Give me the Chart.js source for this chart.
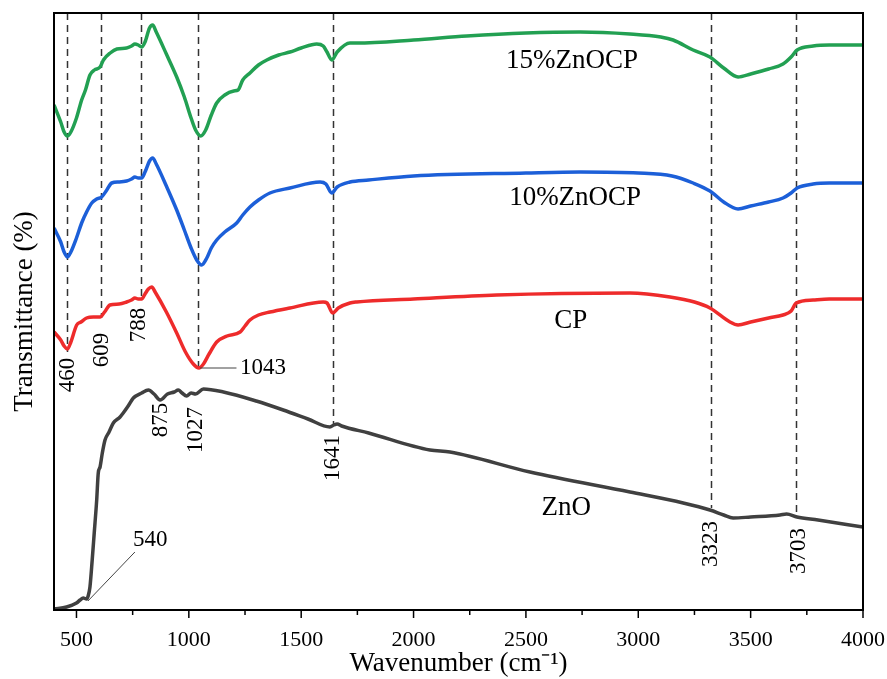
<!DOCTYPE html>
<html>
<head>
<meta charset="utf-8">
<script src="https://cdn.jsdelivr.net/npm/chart.js@4.4.0/dist/chart.umd.min.js"></script>
<style>
  html, body { margin: 0; padding: 0; background: #fff; }
</style>
</head>
<body>
<canvas id="ftirChart" width="887" height="679"></canvas>
<script>
// FTIR spectra, wavenumber (cm-1) and offset transmittance (a.u.)
var wn15 = [400,430,445,460,475,500,523,540,560,580,605,620,650,680,723,745,760,775,790,805,825,839,855,900,946,980,1010,1030,1053,1075,1100,1124,1160,1200,1219,1240,1272,1310,1347,1400,1450,1500,1569,1598,1615,1636,1660,1717,1747,2000,2237,2500,2741,2963,3100,3155,3244,3319,3380,3444,3500,3580,3644,3680,3707,3778,3850,4000];
var t15  = [505,488,478,474,478,492,510,520,535,540,543,550,557,561,562,564,566,565,563,568,582,585,578,556,533,513,492,480,474,480,495,507,515,519,520,530,537,545,550,555,558,562,566,564,558,550,558,567,567,570,574,577,578,576,573,570,560,553,542,533,536,541,546,553,560,564,565,565];

var wn10 = [400,430,445,460,475,500,523,545,568,590,612,635,657,690,723,745,760,775,790,805,825,839,855,900,946,980,1010,1035,1057,1080,1100,1124,1160,1213,1240,1272,1310,1361,1450,1584,1610,1636,1660,1717,1800,2000,2500,2741,3000,3150,3244,3319,3380,3444,3500,3580,3644,3680,3707,3778,3850,4000];
var t10  = [382,368,358,353,358,372,387,398,407,411,413,420,427,428,429,431,433,432,432,438,449,452,446,424,400,380,362,350,345,352,362,370,378,387,395,403,410,417,422,428,426,417,423,428,430,434,437,438,437,434,427,419,408,401,404,408,412,417,422,426,427,427];

var wnCP = [400,430,445,460,475,501,520,545,575,605,625,649,690,723,745,760,775,790,805,820,835,850,900,946,985,1020,1045,1065,1090,1124,1170,1228,1250,1272,1310,1361,1450,1598,1615,1640,1665,1717,1747,2000,2370,2963,3141,3250,3319,3408,3444,3500,3580,3644,3680,3703,3778,3850,4000];
var tCP  = [278,270,264,261,268,285,288,292,293,293,298,305,306,308,310,312,311,311,316,321,323,318,298,277,258,246,242,246,256,268,274,278,284,290,295,298,302,308,307,297,302,307,308,311,315,317,313,308,302,288,285,288,292,295,299,307,310,311,311];

var wnZnO = [400,456,500,516,530,545,552,560,570,579,590,597,605,615,627,645,664,694,708,730,753,790,820,845,872,905,935,953,970,990,1010,1030,1065,1154,1300,1420,1530,1628,1645,1660,1680,1800,2073,2162,2518,2963,3200,3319,3380,3422,3500,3631,3660,3706,3800,4000];
var tZnO  = [1,3,7,10,12,11,14,23,50,77,110,137,143,157,170,178,187,193,197,204,212,217,220,216,210,216,218,220,217,214,217,216,221,218,209,200,191,183,185,186,184,177,160,158,138,118,107,100,95,92,93,95,96,93,90,83];

var xMajorTicks = [500,1000,1500,2000,2500,3000,3500,4000];
var xMinorTicks = [750,1250,1750,2250,2750,3250,3750];

// dashed marker lines: wavenumber and where each one stops
var peakWn  = [460,609,788,1043,1641,3323,3703];
var peakEnd = [258,292,311,242,185,102,93];

// text placed in data coordinates
var seriesLabels = [
  {text: '15%ZnOCP', x: 2705, y: 549},
  {text: '10%ZnOCP', x: 2719, y: 412},
  {text: 'CP', x: 2700, y: 289},
  {text: 'ZnO', x: 2679, y: 102}
];
var rotatedLabels = [
  {text: '460', x: 460, y: 235},
  {text: '609', x: 614, y: 260},
  {text: '788', x: 778, y: 285},
  {text: '875', x: 876, y: 190},
  {text: '1027', x: 1032, y: 180},
  {text: '1641', x: 1642, y: 152},
  {text: '3323', x: 3324, y: 66},
  {text: '3703', x: 3716, y: 59}
];
var flatLabels = [
  {text: '1043', x: 1228, y: 242},
  {text: '540', x: 752, y: 70}
];
var leaders = [
  [[1050, 242], [1212, 242]],
  [[551, 9], [760, 58]]
];

function toPoints(xs, ys) {
  return xs.map(function (x, i) { return {x: x, y: ys[i]}; });
}

function series(label, xs, ys, color) {
  return {
    label: label,
    data: toPoints(xs, ys),
    showLine: true,
    borderColor: color,
    borderWidth: 3.5,
    pointRadius: 0,
    cubicInterpolationMode: 'monotone',
    fill: false
  };
}

var serif = "'Liberation Serif', 'Times New Roman', serif";

var decor = {
  id: 'decor',
  beforeDatasetsDraw: function (chart) {
    var c = chart.ctx, xs = chart.scales.x, ys = chart.scales.y, top = chart.chartArea.top;
    c.save();
    c.strokeStyle = '#333';
    c.lineWidth = 1.5;
    c.setLineDash([7, 5]);
    peakWn.forEach(function (w, i) {
      var px = Math.round(xs.getPixelForValue(w)) + 0.5;
      c.beginPath();
      c.moveTo(px, top);
      c.lineTo(px, ys.getPixelForValue(peakEnd[i]));
      c.stroke();
    });
    c.restore();
  },
  afterDraw: function (chart) {
    var c = chart.ctx, xs = chart.scales.x, ys = chart.scales.y, a = chart.chartArea;
    c.save();
    // frame
    c.strokeStyle = '#000';
    c.lineWidth = 2;
    c.strokeRect(a.left, a.top, a.right - a.left, a.bottom - a.top);
    // tick marks
    c.lineWidth = 1.5;
    xMajorTicks.forEach(function (v) {
      var px = xs.getPixelForValue(v);
      c.beginPath(); c.moveTo(px, a.bottom); c.lineTo(px, a.bottom + 8); c.stroke();
    });
    xMinorTicks.forEach(function (v) {
      var px = xs.getPixelForValue(v);
      c.beginPath(); c.moveTo(px, a.bottom); c.lineTo(px, a.bottom + 5); c.stroke();
    });
    // leader lines
    c.strokeStyle = '#444';
    c.lineWidth = 1;
    leaders.forEach(function (l) {
      c.beginPath();
      c.moveTo(xs.getPixelForValue(l[0][0]), ys.getPixelForValue(l[0][1]));
      c.lineTo(xs.getPixelForValue(l[1][0]), ys.getPixelForValue(l[1][1]));
      c.stroke();
    });
    c.fillStyle = '#000';
    c.textBaseline = 'middle';
    c.textAlign = 'center';
    c.font = '27px ' + serif;
    seriesLabels.forEach(function (s) {
      c.fillText(s.text, xs.getPixelForValue(s.x), ys.getPixelForValue(s.y));
    });
    c.font = '23px ' + serif;
    rotatedLabels.forEach(function (s) {
      c.save();
      c.translate(xs.getPixelForValue(s.x), ys.getPixelForValue(s.y));
      c.rotate(-Math.PI / 2);
      c.fillText(s.text, 0, 0);
      c.restore();
    });
    c.textAlign = 'left';
    flatLabels.forEach(function (s) {
      c.fillText(s.text, xs.getPixelForValue(s.x), ys.getPixelForValue(s.y));
    });
    c.restore();
  }
};

var ctx = document.getElementById('ftirChart').getContext('2d');
var ftirChart = new Chart(ctx, {
  type: 'scatter',
  data: {
    datasets: [
      series('15%ZnOCP', wn15, t15, '#22a052'),
      series('10%ZnOCP', wn10, t10, '#1c5fd8'),
      series('CP', wnCP, tCP, '#ee2b2b'),
      series('ZnO', wnZnO, tZnO, '#404040')
    ]
  },
  options: {
    responsive: false,
    animation: false,
    devicePixelRatio: 1,
    layout: { padding: { top: 13, right: 24, left: 0, bottom: 0 } },
    plugins: { legend: { display: false }, tooltip: { enabled: false } },
    scales: {
      x: {
        type: 'linear',
        min: 400,
        max: 4000,
        afterBuildTicks: function (scale) {
          scale.ticks = xMajorTicks.map(function (v) { return {value: v}; });
        },
        afterFit: function (scale) {
          scale.height = 69;
          scale.paddingLeft = 0;
          scale.paddingRight = 0;
        },
        grid: { display: false, drawTicks: false },
        border: { display: false },
        ticks: {
          autoSkip: false,
          maxRotation: 0,
          padding: 17,
          color: '#000',
          font: { family: serif, size: 22 },
          callback: function (v) { return String(v); }
        },
        title: {
          display: true,
          text: 'Wavenumber (cm\u207B\u00B9)',
          color: '#000',
          font: { family: serif, size: 27, lineHeight: 1.1 },
          padding: 0
        }
      },
      y: {
        min: 0,
        max: 597,
        afterFit: function (scale) { scale.width = 54; },
        grid: { display: false, drawTicks: false },
        border: { display: false },
        ticks: { display: false },
        title: {
          display: true,
          text: 'Transmittance (%)',
          color: '#000',
          font: { family: serif, size: 27 },
          padding: { top: 9, bottom: 0 }
        }
      }
    }
  },
  plugins: [decor]
});
</script>
</body>
</html>
